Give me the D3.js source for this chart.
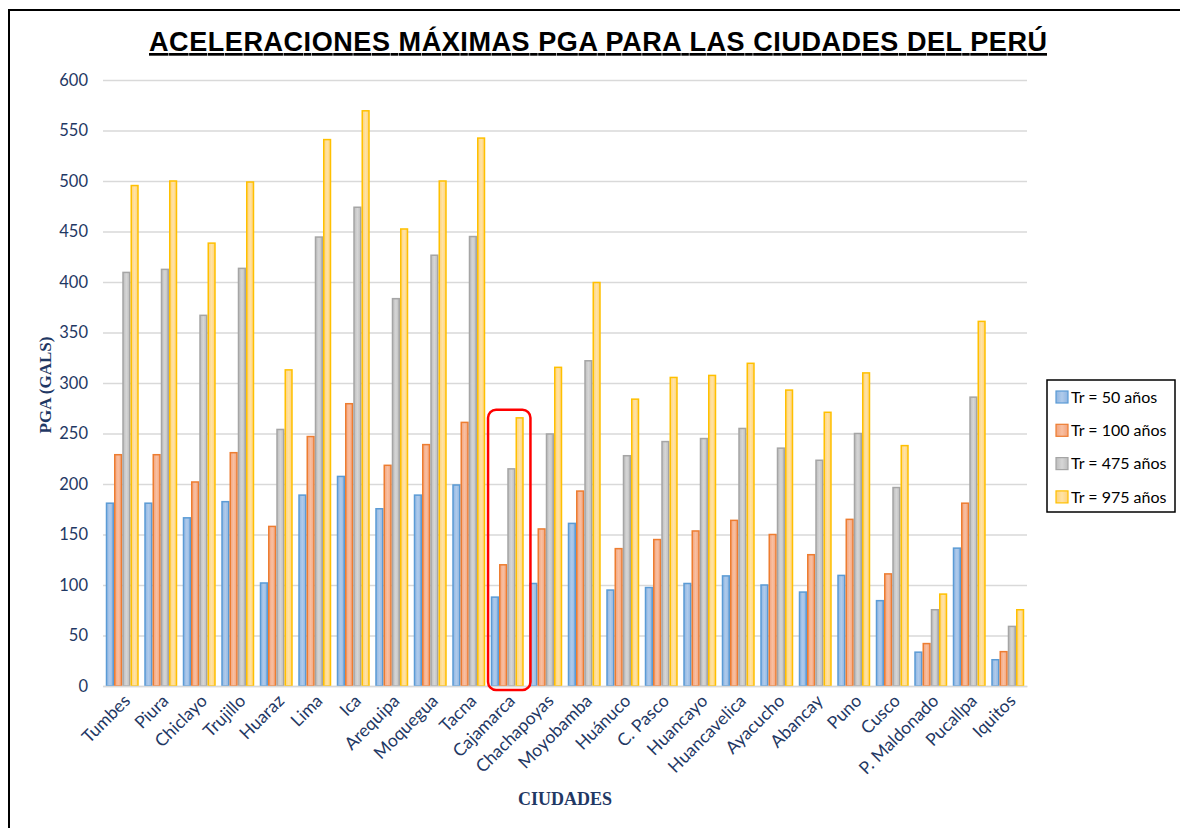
<!DOCTYPE html>
<html>
<head>
<meta charset="utf-8">
<script src="https://cdn.jsdelivr.net/npm/d3@7"></script>
<style>
  body { margin: 0; background: #fff; }
  svg { display: block; }
</style>
</head>
<body>
<svg id="chart"></svg>
<script>
const ciudades = ["Tumbes", "Piura", "Chiclayo", "Trujillo", "Huaraz", "Lima", "Ica", "Arequipa",
  "Moquegua", "Tacna", "Cajamarca", "Chachapoyas", "Moyobamba", "Huánuco", "C. Pasco", "Huancayo",
  "Huancavelica", "Ayacucho", "Abancay", "Puno", "Cusco", "P. Maldonado", "Pucallpa", "Iquitos"];

const tr50  = [181, 181, 166.5, 182.5, 102, 189, 207.5, 175.5, 189, 199, 88, 101.5, 161, 95, 97.5, 101.5, 109, 100, 93, 109.5, 84.5, 33.5, 136.5, 26];
const tr100 = [229, 229, 202, 231, 158, 247, 279.5, 218.5, 239, 261, 120, 155.5, 193, 136, 145, 153.5, 164, 150, 130, 165, 111, 42, 181, 34];
const tr475 = [409.5, 412.5, 367, 413.5, 254, 444.5, 474, 383.5, 426.5, 445, 215, 249.5, 322, 228, 242, 245, 255, 235.5, 223.5, 250, 196.5, 75.5, 286, 59];
const tr975 = [495.5, 500, 438.5, 499, 313, 541, 569.5, 452.5, 500, 542.5, 265.5, 315.5, 399.5, 284, 305.5, 307.5, 319.5, 293, 271, 310, 238, 91, 361, 75.5];

const serieNames = ["Tr = 50 años", "Tr = 100 años", "Tr = 475 años", "Tr = 975 años"];
const yTicks = [0, 50, 100, 150, 200, 250, 300, 350, 400, 450, 500, 550, 600];
const highlighted = "Cajamarca";

const series = [tr50, tr100, tr475, tr975];
// stroke, gradient edge, gradient center
const colors = [
  ["#5b9bd5", "#8fb5e2", "#b0cbeb"],
  ["#ed7d31", "#f3a37c", "#f8c0a2"],
  ["#a5a5a5", "#bdbdbd", "#d6d6d6"],
  ["#ffc000", "#ffd27a", "#ffe3a6"]
];

const width = 1180, height = 828;
const margin = {left: 103, right: 153, top: 80, bottom: 142};
const navy = "#1f3864";
const sans = "Lato, 'Open Sans', sans-serif";
const serif = "'Liberation Serif', 'Times New Roman', serif";

const svg = d3.select("#chart").attr("width", width).attr("height", height);

const defs = svg.append("defs");
colors.forEach((c, i) => {
  const g = defs.append("linearGradient").attr("id", "grad" + i)
    .attr("x1", "0%").attr("x2", "100%").attr("y1", "0%").attr("y2", "0%");
  g.append("stop").attr("offset", "0%").attr("stop-color", c[1]);
  g.append("stop").attr("offset", "50%").attr("stop-color", c[2]);
  g.append("stop").attr("offset", "100%").attr("stop-color", c[1]);
});

// outer frame (only top and left visible)
svg.append("path")
  .attr("d", "M9," + height + "V10H" + width)
  .attr("fill", "none").attr("stroke", "#000").attr("stroke-width", 2);

const x0 = d3.scaleBand()
  .domain(ciudades)
  .range([margin.left, width - margin.right])
  .paddingInner(0.143)
  .paddingOuter(0.0715);

const x1 = d3.scaleBand()
  .domain(d3.range(series.length))
  .range([0, x0.bandwidth()]);

const y = d3.scaleLinear()
  .domain([0, 600])
  .range([height - margin.bottom, margin.top]);

// gridlines
const yAxis = d3.axisLeft(y)
  .tickValues(yTicks)
  .tickSize(-(width - margin.left - margin.right))
  .tickPadding(15);

const gy = svg.append("g")
  .attr("transform", "translate(" + margin.left + ",0)")
  .call(yAxis);
gy.select(".domain").remove();
gy.selectAll(".tick line").attr("stroke", "#d9d9d9").attr("stroke-width", 1.5);
gy.selectAll(".tick text")
  .attr("fill", navy)
  .style("font-family", sans)
  .style("font-size", "16.5px");

// bars
const groups = svg.append("g").selectAll("g")
  .data(ciudades)
  .enter()
  .append("g")
  .attr("transform", d => "translate(" + x0(d) + ",0)");

groups.selectAll("rect")
  .data((d, i) => series.map((s, k) => ({k: k, v: s[i]})))
  .enter()
  .append("rect")
  .attr("x", d => x1(d.k) + 0.75)
  .attr("y", d => y(d.v))
  .attr("width", x1.bandwidth() - 1.5)
  .attr("height", d => y(0) - y(d.v))
  .attr("fill", d => "url(#grad" + d.k + ")")
  .attr("stroke", d => colors[d.k][0])
  .attr("stroke-width", 1.5);

// x axis
const xAxis = d3.axisBottom(x0).tickSize(0).tickPadding(0);
const gx = svg.append("g")
  .attr("transform", "translate(0," + y(0) + ")")
  .call(xAxis);
gx.select(".domain").attr("stroke", "#d9d9d9").attr("stroke-width", 1.5);
gx.selectAll(".tick text")
  .attr("fill", navy)
  .style("font-family", sans)
  .style("font-size", "17.5px")
  .attr("text-anchor", "end")
  .attr("dy", 0)
  .attr("transform", "translate(9,16) rotate(-45)");

// highlight box
const maxHi = d3.max(series, s => s[ciudades.indexOf(highlighted)]);
svg.append("rect")
  .attr("x", x0(highlighted) - 2.7)
  .attr("y", y(maxHi) - 8)
  .attr("width", x0.bandwidth() + 9.4)
  .attr("height", y(0) + 4 - (y(maxHi) - 8))
  .attr("rx", 8).attr("ry", 8)
  .attr("fill", "none")
  .attr("stroke", "#ff0000")
  .attr("stroke-width", 2.5);

// title
svg.append("text")
  .attr("x", 149).attr("y", 51)
  .attr("textLength", 898)
  .attr("lengthAdjust", "spacing")
  .style("font-family", "'Liberation Sans', Arial, sans-serif")
  .style("font-weight", "bold")
  .style("font-size", "27px")
  .style("text-decoration", "underline")
  .attr("fill", "#000")
  .text("ACELERACIONES  MÁXIMAS  PGA  PARA  LAS  CIUDADES  DEL  PERÚ");

// axis titles
svg.append("text")
  .attr("transform", "translate(51,385) rotate(-90)")
  .attr("text-anchor", "middle")
  .style("font-family", serif)
  .style("font-weight", "bold")
  .style("font-size", "17px")
  .attr("fill", navy)
  .text("PGA (GALS)");

svg.append("text")
  .attr("x", 565).attr("y", 805)
  .attr("text-anchor", "middle")
  .style("font-family", serif)
  .style("font-weight", "bold")
  .style("font-size", "18px")
  .attr("fill", navy)
  .text("CIUDADES");

// legend
const legend = svg.append("g").attr("transform", "translate(1047,380)");
legend.append("rect")
  .attr("x", 0).attr("y", 0).attr("width", 128).attr("height", 132)
  .attr("fill", "#fff").attr("stroke", "#000").attr("stroke-width", 1.5);

const items = legend.selectAll("g.item")
  .data(serieNames)
  .enter()
  .append("g")
  .attr("class", "item")
  .attr("transform", (d, i) => "translate(9," + (17 + i * 33.3) + ")");

items.append("rect")
  .attr("x", 0).attr("y", -6).attr("width", 12).attr("height", 12)
  .attr("fill", (d, i) => "url(#grad" + i + ")")
  .attr("stroke", (d, i) => colors[i][0])
  .attr("stroke-width", 1.2);

items.append("text")
  .attr("x", 15).attr("y", 0).attr("dy", "0.35em")
  .style("font-family", sans)
  .style("font-size", "16px")
  .attr("fill", "#000")
  .text(d => d);
</script>
</body>
</html>
